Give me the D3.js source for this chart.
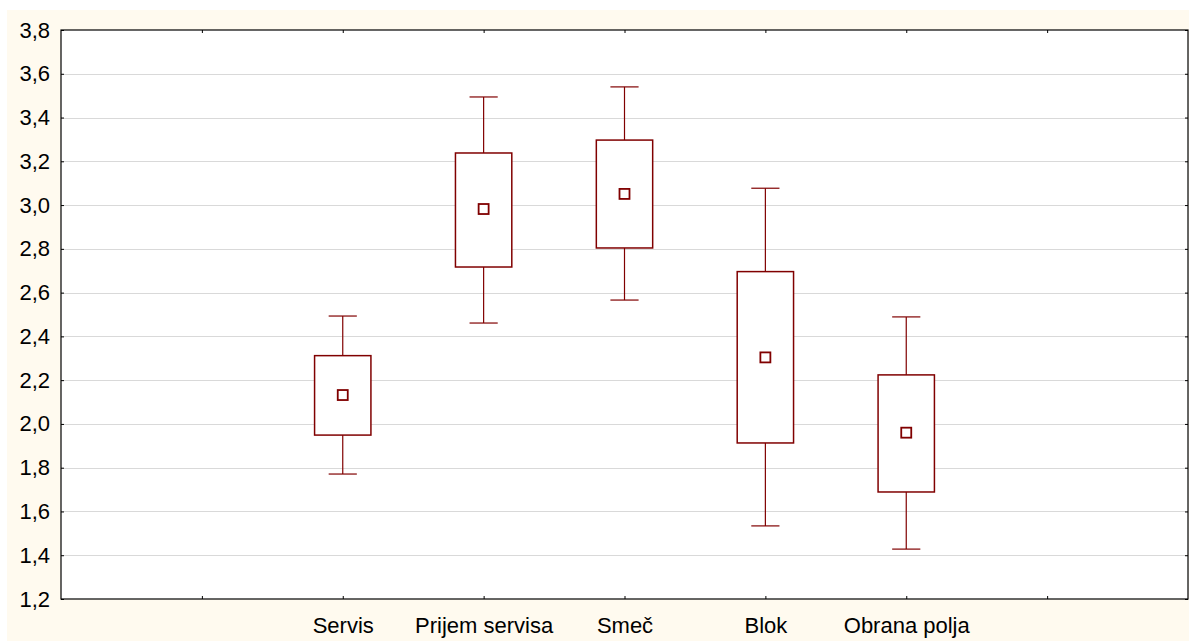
<!DOCTYPE html>
<html>
<head>
<meta charset="utf-8">
<script src="https://cdn.jsdelivr.net/npm/d3@7"></script>
<style>
  body { margin: 0; background: #fff; }
  svg text { font-family: "Liberation Sans", Arial, sans-serif; }
</style>
</head>
<body>
<div id="wrapper"></div>
<script>
// data (mean, box = mean +/- SE, whiskers)
const categories = ["Servis", "Prijem servisa", "Smeč", "Blok", "Obrana polja"];
const means      = [2.132, 2.982, 3.051, 2.304, 1.960];
const boxTop     = [2.312, 3.238, 3.297, 2.696, 2.224];
const boxBottom  = [1.949, 2.717, 2.804, 1.913, 1.689];
const whiskTop   = [2.493, 3.494, 3.540, 3.077, 2.489];
const whiskBot   = [1.771, 2.461, 2.566, 1.534, 1.428];
const yTicks     = [1.2, 1.4, 1.6, 1.8, 2.0, 2.2, 2.4, 2.6, 2.8, 3.0, 3.2, 3.4, 3.6, 3.8];

function drawBoxChart() {
  const dataset = categories.map((c, i) => ({
    name: c,
    slot: i + 2,
    mean: means[i],
    q1: boxBottom[i],
    q3: boxTop[i],
    lo: whiskBot[i],
    hi: whiskTop[i],
  }));

  let dimensions = {
    width: 1190,
    height: 641,
    margin: { top: 30, right: 2, bottom: 42, left: 61 },
  };
  dimensions.boundedWidth = dimensions.width - dimensions.margin.left - dimensions.margin.right;
  dimensions.boundedHeight = dimensions.height - dimensions.margin.top - dimensions.margin.bottom;

  const wrapper = d3.select("#wrapper")
    .append("svg")
    .attr("width", dimensions.width)
    .attr("height", dimensions.height);

  // cream background
  wrapper.append("rect")
    .attr("x", 7).attr("y", 10)
    .attr("width", 1182).attr("height", 631)
    .attr("fill", "#fffaef");

  const bounds = wrapper.append("g")
    .attr("transform", `translate(${dimensions.margin.left},${dimensions.margin.top})`);

  bounds.append("rect")
    .attr("width", dimensions.boundedWidth)
    .attr("height", dimensions.boundedHeight)
    .attr("fill", "#fff");

  const yScale = d3.scaleLinear()
    .domain([1.2, 3.8])
    .range([dimensions.boundedHeight, 0]);

  // 8 slots, categories sit on slots 2..6
  const xScale = d3.scaleLinear()
    .domain([0, 8])
    .range([0, dimensions.boundedWidth]);

  const fmt = (d) => d3.format(".1f")(d).replace(".", ",");

  // gridlines
  bounds.append("g")
    .selectAll("line")
    .data(yTicks.slice(1, -1))
    .enter()
    .append("line")
    .attr("x1", 0)
    .attr("x2", dimensions.boundedWidth)
    .attr("y1", (d) => Math.round(yScale(d)) + 0.5)
    .attr("y2", (d) => Math.round(yScale(d)) + 0.5)
    .attr("stroke", "#d9d9d9")
    .attr("stroke-width", 1);

  // axes
  const yAxis = bounds.append("g")
    .call(d3.axisLeft(yScale).tickValues(yTicks).tickFormat(fmt)
      .tickSizeInner(-3).tickSizeOuter(0).tickPadding(11));
  const yAxisRight = bounds.append("g")
    .attr("transform", `translate(${dimensions.boundedWidth},0)`)
    .call(d3.axisRight(yScale).tickValues(yTicks).tickFormat("")
      .tickSizeInner(-3).tickSizeOuter(0));

  const slotTicks = [1, 2, 3, 4, 5, 6, 7];
  const xAxis = bounds.append("g")
    .attr("transform", `translate(0,${dimensions.boundedHeight})`)
    .call(d3.axisBottom(xScale).tickValues(slotTicks)
      .tickFormat((d) => (d >= 2 && d <= 6 ? categories[d - 2] : ""))
      .tickSizeInner(-3).tickSizeOuter(0).tickPadding(18));
  const xAxisTop = bounds.append("g")
    .call(d3.axisTop(xScale).tickValues(slotTicks).tickFormat("")
      .tickSizeInner(-3).tickSizeOuter(0));

  [yAxis, yAxisRight, xAxis, xAxisTop].forEach((ax) => {
    ax.select(".domain").remove();
    ax.selectAll(".tick line").attr("stroke", "#000");
    ax.selectAll("text")
      .attr("fill", "#000")
      .style("font-size", "22px")
      .style("font-family", "'Liberation Sans', Arial, sans-serif");
  });

  // frame
  bounds.append("rect")
    .attr("x", 0).attr("y", 0)
    .attr("width", dimensions.boundedWidth)
    .attr("height", dimensions.boundedHeight)
    .attr("fill", "none")
    .attr("stroke", "#000")
    .attr("stroke-width", 1.2);

  const color = "#800000";
  const boxW = xScale(0.4) - xScale(0);
  const capW = xScale(0.2) - xScale(0);

  const boxes = bounds.selectAll(".box")
    .data(dataset)
    .enter()
    .append("g")
    .attr("class", "box");

  // whiskers
  boxes.append("line")
    .attr("x1", (d) => xScale(d.slot)).attr("x2", (d) => xScale(d.slot))
    .attr("y1", (d) => yScale(d.hi)).attr("y2", (d) => yScale(d.q3))
    .attr("stroke", color).attr("stroke-width", 1.2);
  boxes.append("line")
    .attr("x1", (d) => xScale(d.slot)).attr("x2", (d) => xScale(d.slot))
    .attr("y1", (d) => yScale(d.q1)).attr("y2", (d) => yScale(d.lo))
    .attr("stroke", color).attr("stroke-width", 1.2);
  boxes.append("line")
    .attr("x1", (d) => xScale(d.slot) - capW / 2).attr("x2", (d) => xScale(d.slot) + capW / 2)
    .attr("y1", (d) => yScale(d.hi)).attr("y2", (d) => yScale(d.hi))
    .attr("stroke", color).attr("stroke-width", 1.2);
  boxes.append("line")
    .attr("x1", (d) => xScale(d.slot) - capW / 2).attr("x2", (d) => xScale(d.slot) + capW / 2)
    .attr("y1", (d) => yScale(d.lo)).attr("y2", (d) => yScale(d.lo))
    .attr("stroke", color).attr("stroke-width", 1.2);

  // boxes
  boxes.append("rect")
    .attr("x", (d) => xScale(d.slot) - boxW / 2)
    .attr("y", (d) => yScale(d.q3))
    .attr("width", boxW)
    .attr("height", (d) => yScale(d.q1) - yScale(d.q3))
    .attr("fill", "#fff")
    .attr("stroke", color)
    .attr("stroke-width", 1.5);

  // mean markers
  boxes.append("rect")
    .attr("x", (d) => xScale(d.slot) - 5)
    .attr("y", (d) => yScale(d.mean) - 5)
    .attr("width", 10)
    .attr("height", 10)
    .attr("fill", "#fff")
    .attr("stroke", color)
    .attr("stroke-width", 1.8);
}

drawBoxChart();
</script>
</body>
</html>
